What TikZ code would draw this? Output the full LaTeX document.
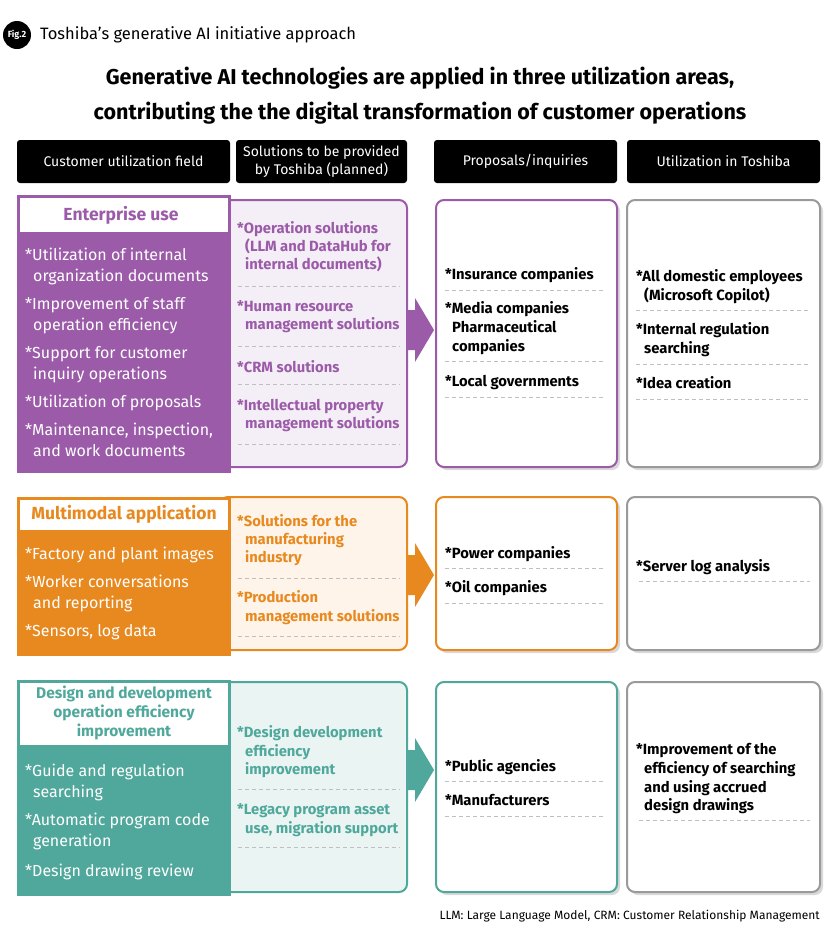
\documentclass[tikz,border=0pt]{standalone}
\usepackage{fontspec}
\setmainfont{Fira Sans}
\newcounter{tn}
\definecolor{pu}{HTML}{9B5BA8}
\definecolor{pul}{HTML}{F4EEF6}
\definecolor{or}{HTML}{E8891F}
\definecolor{orl}{HTML}{FEF4EA}
\definecolor{te}{HTML}{4FA89B}
\definecolor{tel}{HTML}{EAF5F3}
\definecolor{gr}{HTML}{9A9A9A}
\newcommand\tx[4][]{\stepcounter{tn}\node[anchor=base west,inner sep=0,#1] (t\arabic{tn}) at (#2,#3) {#4};}
\newcommand\dl[3]{\draw[dashl] (#1,#3) -- (#2,#3);}
\begin{document}
\begin{tikzpicture}[x=1pt,y=-1pt,
  hdr/.style={fill=black,rounded corners=3pt,draw=none},
  dashl/.style={draw=black!25,dash pattern=on 4pt off 3pt,line width=0.8pt},
  body/.style={font=\fontsize{16}{21}\selectfont,text=white},
  sol/.style={font=\fontsize{14.8}{18}\selectfont\bfseries},
  prop/.style={font=\fontsize{14.8}{18}\selectfont\bfseries},
]
\useasboundingbox (0,0) rectangle (840,938);
\fill[white] (0,0) rectangle (840,938);
% title
\node[circle,fill=black,minimum size=28pt,inner sep=0,text=white,font=\fontsize{9}{9}\selectfont\bfseries] (fig) at (17,35) {Fig.2};
\node[anchor=west,inner sep=0,font=\fontsize{16.5}{18}\selectfont] (ftitle) at (40,35) {Toshiba’s generative AI initiative approach};
\node[align=center,font=\fontsize{21.5}{35}\selectfont\bfseries] (head) at (420,96) {Generative AI technologies are applied in three utilization areas,\\contributing the the digital transformation of customer operations};
% headers
\filldraw[hdr] (17,140) rectangle (230,183); \node[text=white,font=\fontsize{14}{18}\selectfont] (h1) at (123.5,161.5) {Customer utilization field};
\filldraw[hdr] (236,140) rectangle (407,183); \node[text=white,align=center,font=\fontsize{14}{18}\selectfont] (h2) at (321.5,161.5) {Solutions to be provided\\by Toshiba (planned)};
\filldraw[hdr] (434,140) rectangle (617,183); \node[text=white,font=\fontsize{14}{18}\selectfont] (h3) at (525.5,161.5) {Proposals/inquiries};
\filldraw[hdr] (627,140) rectangle (820,183); \node[text=white,font=\fontsize{14}{18}\selectfont] (h4) at (723.5,161.5) {Utilization in Toshiba};
% ---- Section 1
\fill[black!15,rounded corners=8pt] (439,203) rectangle (620,470);
\fill[black!15,rounded corners=8pt] (630,203) rectangle (823,470);
\filldraw[fill=pul,draw=pu,line width=2pt,rounded corners=8pt] (220,200) rectangle (407,467);
\filldraw[fill=white,draw=pu,line width=2pt,rounded corners=8pt] (436,200) rectangle (617,467);
\filldraw[fill=white,draw=gr,line width=2pt,rounded corners=8pt] (627,200) rectangle (820,467);
\fill[pu] (17,195) rectangle (231,473);
\fill[white] (20,198) rectangle (228,232);
\node[text=pu,font=\fontsize{17.5}{20}\selectfont\bfseries] (e1) at (121,215) {Enterprise use};
\fill[pu] (407,310) -- (415,310) -- (415,298) -- (434,330) -- (415,362) -- (415,350) -- (407,350) -- cycle;
\tx[body]{25}{260}{*Utilization of internal}
\tx[body]{33}{281}{organization documents}
\tx[body]{25}{309}{*Improvement of staff}
\tx[body]{33}{330}{operation efficiency}
\tx[body]{25}{358}{*Support for customer}
\tx[body]{33}{379}{inquiry operations}
\tx[body]{25}{407}{*Utilization of proposals}
\tx[body]{25}{435}{*Maintenance, inspection,}
\tx[body]{33}{456}{and work documents}
\tx[sol,text=pu]{237}{233}{*Operation solutions}
\tx[sol,text=pu]{245}{251}{(LLM and DataHub for}
\tx[sol,text=pu]{245}{269}{internal documents)}
\dl{238}{400}{286}
\tx[sol,text=pu]{237}{311}{*Human resource}
\tx[sol,text=pu]{245}{329}{management solutions}
\dl{238}{400}{346}
\tx[sol,text=pu]{237}{372}{*CRM solutions}
\dl{238}{400}{384}
\tx[sol,text=pu]{237}{410}{*Intellectual property}
\tx[sol,text=pu]{245}{428}{management solutions}
\dl{238}{400}{444}
\tx[prop]{445}{279}{*Insurance companies}
\dl{445}{605}{290}
\tx[prop]{445}{313}{*Media companies}
\tx[prop]{452}{332}{Pharmaceutical}
\tx[prop]{452}{351}{companies}
\dl{445}{605}{361}
\tx[prop]{445}{386}{*Local governments}
\dl{445}{605}{397}
\tx[prop]{636}{281}{*All domestic employees}
\tx[prop]{644}{300}{(Microsoft Copilot)}
\dl{636}{810}{310}
\tx[prop]{636}{334}{*Internal regulation}
\tx[prop]{644}{353}{searching}
\dl{636}{810}{364}
\tx[prop]{636}{388}{*Idea creation}
\dl{636}{810}{399}
% ---- Section 2
\fill[black!15,rounded corners=8pt] (439,500) rectangle (620,653);
\fill[black!15,rounded corners=8pt] (630,500) rectangle (823,653);
\filldraw[fill=orl,draw=or,line width=2pt,rounded corners=8pt] (220,497) rectangle (407,650);
\filldraw[fill=white,draw=or,line width=2pt,rounded corners=8pt] (436,497) rectangle (617,650);
\filldraw[fill=white,draw=gr,line width=2pt,rounded corners=8pt] (627,497) rectangle (820,650);
\fill[or] (17,497) rectangle (231,656);
\fill[white] (20,500) rectangle (228,530);
\node[text=or,font=\fontsize{17.5}{20}\selectfont\bfseries] (e2) at (124,514) {Multimodal application};
\fill[or] (407,555) -- (415,555) -- (415,543) -- (434,575) -- (415,607) -- (415,595) -- (407,595) -- cycle;
\tx[body]{25}{559}{*Factory and plant images}
\tx[body]{25}{587}{*Worker conversations}
\tx[body]{33}{608}{and reporting}
\tx[body]{25}{636}{*Sensors, log data}
\tx[sol,text=or]{237}{526}{*Solutions for the}
\tx[sol,text=or]{245}{544}{manufacturing}
\tx[sol,text=or]{245}{562}{industry}
\dl{238}{400}{578}
\tx[sol,text=or]{237}{602}{*Production}
\tx[sol,text=or]{245}{621}{management solutions}
\dl{238}{400}{636}
\tx[prop]{445}{558}{*Power companies}
\dl{445}{605}{568}
\tx[prop]{445}{592}{*Oil companies}
\dl{445}{605}{603}
\tx[prop]{636}{571}{*Server log analysis}
\dl{639}{810}{581}
% ---- Section 3
\fill[black!15,rounded corners=8pt] (439,685) rectangle (620,895);
\fill[black!15,rounded corners=8pt] (630,685) rectangle (823,895);
\filldraw[fill=tel,draw=te,line width=2pt,rounded corners=8pt] (220,682) rectangle (407,892);
\filldraw[fill=white,draw=te,line width=2pt,rounded corners=8pt] (436,682) rectangle (617,892);
\filldraw[fill=white,draw=gr,line width=2pt,rounded corners=8pt] (627,682) rectangle (820,892);
\fill[te] (17,680) rectangle (231,896);
\fill[white] (20,683) rectangle (228,745);
\node[text=te,align=center,font=\fontsize{15.5}{19}\selectfont\bfseries] (e3) at (124,713) {Design and development\\operation efficiency\\improvement};
\fill[te] (407,750) -- (415,750) -- (415,738) -- (434,770) -- (415,802) -- (415,790) -- (407,790) -- cycle;
\tx[body]{25}{776}{*Guide and regulation}
\tx[body]{33}{797}{searching}
\tx[body]{25}{825}{*Automatic program code}
\tx[body]{33}{846}{generation}
\tx[body]{25}{876}{*Design drawing review}
\tx[sol,text=te]{237}{737}{*Design development}
\tx[sol,text=te]{245}{756}{efficiency}
\tx[sol,text=te]{245}{774}{improvement}
\dl{238}{400}{789}
\tx[sol,text=te]{237}{814}{*Legacy program asset}
\tx[sol,text=te]{245}{833}{use, migration support}
\dl{238}{400}{847}
\tx[prop]{445}{771}{*Public agencies}
\dl{445}{605}{781}
\tx[prop]{445}{805}{*Manufacturers}
\dl{445}{605}{816}
\tx[prop]{636}{754}{*Improvement of the}
\tx[prop]{644}{773}{efficiency of searching}
\tx[prop]{644}{792}{and using accrued}
\tx[prop]{644}{810}{design drawings}
\dl{639}{810}{820}
\node[anchor=east,inner sep=0,font=\fontsize{12}{14}\selectfont] (foot) at (820,916) {LLM: Large Language Model, CRM: Customer Relationship Management};
\end{tikzpicture}
\end{document}
